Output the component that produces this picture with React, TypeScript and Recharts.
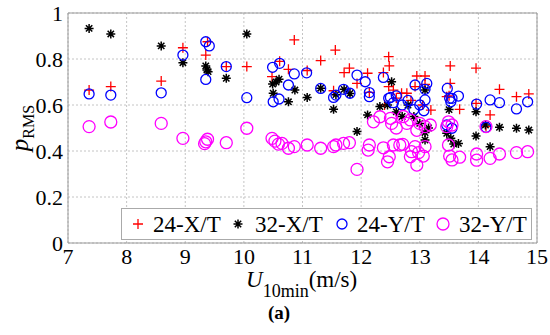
import { ScatterChart, Scatter, XAxis, YAxis, CartesianGrid, ReferenceArea, Legend, Label } from 'recharts';

// p_RMS against 10-min mean wind speed, four tower/direction cases.
// Values, [U10min, pRMS].

const xTicks = [7, 8, 9, 10, 11, 12, 13, 14, 15];
const yTicks = [0, 0.2, 0.4, 0.6, 0.8, 1];

const x24: [number, number][] = [
  [7.36, 0.665], [7.73, 0.68], [8.59, 0.704], [8.96, 0.849], [9.35, 0.817], [9.38, 0.875],
  [9.7, 0.767], [10.05, 0.767], [10.48, 0.723], [10.61, 0.79], [10.76, 0.755], [10.86, 0.883],
  [11.08, 0.75], [11.31, 0.793], [11.53, 0.662], [11.56, 0.839], [11.71, 0.741], [11.8, 0.76],
  [11.93, 0.694], [12.11, 0.738], [12.14, 0.655], [12.38, 0.741], [12.47, 0.81], [12.48, 0.77],
  [12.47, 0.68], [12.55, 0.665], [12.69, 0.651], [12.78, 0.651], [12.92, 0.68], [12.95, 0.726],
  [13.09, 0.726], [13.09, 0.69], [13.19, 0.578], [13.46, 0.636], [13.52, 0.77], [13.52, 0.694],
  [13.68, 0.581], [13.96, 0.76], [13.96, 0.607], [14.13, 0.506], [14.2, 0.557], [14.36, 0.668],
  [14.65, 0.636], [14.86, 0.648], [12.6, 0.63], [12.85, 0.62], [13.05, 0.6], [13.5, 0.64], [12.4, 0.6],
];

const x32: [number, number][] = [
  [7.36, 0.933], [7.73, 0.909], [8.59, 0.857], [8.96, 0.784], [9.35, 0.77], [9.37, 0.752],
  [9.39, 0.745], [9.7, 0.716], [10.05, 0.909], [10.49, 0.691], [10.5, 0.651], [10.6, 0.712],
  [10.55, 0.7], [10.76, 0.614], [10.87, 0.665], [11.08, 0.633], [11.31, 0.673], [11.53, 0.581],
  [11.57, 0.645], [11.71, 0.668], [11.81, 0.65], [11.93, 0.485], [12.11, 0.557], [12.32, 0.593],
  [12.52, 0.701], [12.45, 0.6], [12.6, 0.57], [12.7, 0.55], [12.8, 0.6], [12.9, 0.55], [13.0, 0.52],
  [13.09, 0.665], [13.09, 0.48], [13.09, 0.448], [13.15, 0.5], [13.46, 0.477], [13.53, 0.455],
  [13.58, 0.43], [13.66, 0.433], [13.5, 0.58], [13.96, 0.571], [13.96, 0.465], [14.12, 0.513],
  [14.2, 0.419], [14.36, 0.503], [14.65, 0.499], [14.86, 0.491],
];

const y24: [number, number][] = [
  [7.36, 0.648], [7.73, 0.643], [8.59, 0.653], [8.96, 0.817], [9.35, 0.875], [9.41, 0.857],
  [9.35, 0.711], [9.7, 0.767], [10.05, 0.632], [10.49, 0.764], [10.61, 0.781], [10.5, 0.614],
  [10.6, 0.626], [10.76, 0.687], [10.86, 0.735], [11.07, 0.74], [11.31, 0.672], [11.53, 0.633],
  [11.57, 0.643], [11.7, 0.668], [11.81, 0.651], [11.93, 0.73], [12.07, 0.701], [12.14, 0.654],
  [12.14, 0.636], [12.38, 0.72], [12.47, 0.629], [12.5, 0.633], [12.55, 0.61], [12.6, 0.64],
  [12.7, 0.6], [12.8, 0.62], [12.92, 0.687], [12.9, 0.58], [13.0, 0.6], [13.09, 0.668],
  [13.12, 0.694], [13.09, 0.622], [13.07, 0.575], [13.47, 0.672], [13.51, 0.629], [13.53, 0.614],
  [13.55, 0.629], [13.66, 0.639], [13.46, 0.513], [13.55, 0.499], [13.97, 0.604], [14.13, 0.503],
  [14.2, 0.622], [14.36, 0.61], [14.65, 0.583], [14.84, 0.614],
];

const y32: [number, number][] = [
  [7.36, 0.506], [7.73, 0.526], [8.59, 0.52], [8.96, 0.455], [9.35, 0.44], [9.38, 0.451],
  [9.33, 0.432], [9.7, 0.436], [10.05, 0.499], [10.48, 0.455], [10.53, 0.443], [10.59, 0.43],
  [10.65, 0.433], [10.76, 0.412], [10.86, 0.419], [11.08, 0.426], [11.31, 0.412], [11.53, 0.419],
  [11.57, 0.426], [11.7, 0.433], [11.8, 0.436], [11.93, 0.32], [12.12, 0.404], [12.14, 0.426],
  [12.38, 0.414], [12.45, 0.353], [12.48, 0.375], [12.55, 0.426], [12.66, 0.426], [12.71, 0.429],
  [12.84, 0.375], [12.86, 0.397], [12.92, 0.419], [12.95, 0.339], [12.98, 0.393], [13.09, 0.419],
  [13.06, 0.378], [13.49, 0.426], [13.51, 0.378], [13.55, 0.361], [13.68, 0.373], [13.97, 0.387],
  [13.97, 0.36], [14.2, 0.368], [14.36, 0.387], [14.65, 0.393], [14.84, 0.397], [14.13, 0.506],
  [12.21, 0.527], [12.32, 0.549], [12.5, 0.542], [12.52, 0.52], [12.72, 0.55], [12.78, 0.52],
  [12.84, 0.535], [13.0, 0.52], [13.09, 0.506], [13.18, 0.513], [13.49, 0.527], [13.55, 0.513],
  [13.46, 0.506], [12.6, 0.5], [12.95, 0.49],
];

const FONT = '"Liberation Serif", "Times New Roman", serif';
const toPts = (a: [number, number][]) => a.map(([x, y]) => ({ x, y }));

function plus(cx: number, cy: number) {
  return <path d={`M${cx - 5},${cy}H${cx + 5}M${cx},${cy - 5}V${cy + 5}`} stroke="#ff0000" strokeWidth={1.3} fill="none" />;
}
function star(cx: number, cy: number) {
  const r = 4.5, d = r * 0.707;
  return (
    <path d={`M${cx - r},${cy}H${cx + r}M${cx},${cy - r}V${cy + r}M${cx - d},${cy - d}L${cx + d},${cy + d}M${cx - d},${cy + d}L${cx + d},${cy - d}`}
      stroke="#000" strokeWidth={1.5} fill="none" />
  );
}
function ring(cx: number, cy: number, r: number, color: string) {
  return <circle cx={cx} cy={cy} r={r} stroke={color} strokeWidth={1.3} fill="none" />;
}

const PlusShape = (p: any) => plus(p.cx, p.cy);
const StarShape = (p: any) => star(p.cx, p.cy);
const BlueShape = (p: any) => ring(p.cx, p.cy, 5, '#0000ff');
const PinkShape = (p: any) => ring(p.cx, p.cy, 6, '#ff00ff');

function LegendBox() {
  const t = { fontFamily: FONT, fontSize: 23, fill: '#000' };
  return (
    <svg width={411} height={32} style={{ display: 'block' }}>
      <rect x={0.5} y={0.5} width={410} height={31} fill="#fff" stroke="#aaa" />
      {plus(17, 16)}
      <text x={32} y={24} {...t}>24-X/T</text>
      {star(117, 16)}
      <text x={134} y={24} {...t}>32-X/T</text>
      {ring(221, 16, 5, '#0000ff')}
      <text x={236} y={24} {...t}>24-Y/T</text>
      {ring(322, 16, 6, '#ff00ff')}
      <text x={338} y={24} {...t}>32-Y/T</text>
    </svg>
  );
}

export default function App() {
  return (
    <div style={{ position: 'absolute', left: 0, top: 0, width: 550, height: 335, background: '#fff' }}>
      <ScatterChart width={550} height={335} margin={{ top: 13, right: 13, bottom: 52, left: 0 }}>
        <CartesianGrid stroke="#c4c4c4" strokeDasharray="2 2" />
        <XAxis type="number" dataKey="x" domain={[7, 15]} ticks={xTicks} height={40}
          axisLine={false} tickLine={false} tickSize={0} tickMargin={5}
          tick={{ fill: '#000', fontSize: 22, fontFamily: FONT }}>
          <Label content={() => (
            <text x={246} y={287} fontFamily={FONT} fontSize={23} fill="#000">
              <tspan fontStyle="italic">U</tspan>
              <tspan fontSize={18} dy={10}>10min</tspan>
              <tspan dy={-10}>(m/s)</tspan>
            </text>
          )} />
        </XAxis>
        <YAxis type="number" dataKey="y" domain={[0, 1]} ticks={yTicks} width={68}
          axisLine={false} tickLine={false} tickSize={0} tickMargin={5}
          tickFormatter={(v: number) => (v === 0 || v === 1 ? String(v) : v.toFixed(1))}
          tick={{ fill: '#000', fontSize: 22, fontFamily: FONT }}>
          <Label content={() => (
            <text x={0} y={0} transform="translate(28,128) rotate(-90)" textAnchor="middle" fontFamily={FONT} fontSize={25} fill="#000">
              <tspan fontStyle="italic">p</tspan>
              <tspan fontSize={16} dy={6}>RMS</tspan>
            </text>
          )} />
        </YAxis>
        <ReferenceArea x1={7} x2={15} y1={0} y2={1} fill="none" stroke="#9a9a9a" strokeWidth={1} />
        <Scatter name="24-X/T" data={toPts(x24)} shape={PlusShape} isAnimationActive={false} />
        <Scatter name="32-X/T" data={toPts(x32)} shape={StarShape} isAnimationActive={false} />
        <Scatter name="24-Y/T" data={toPts(y24)} shape={BlueShape} isAnimationActive={false} />
        <Scatter name="32-Y/T" data={toPts(y32)} shape={PinkShape} isAnimationActive={false} />
        <Legend layout="horizontal" verticalAlign="middle" align="center" content={() => <LegendBox />}
          wrapperStyle={{ left: 121, top: 208, width: 411, height: 32 }} />
      </ScatterChart>
      <div style={{ position: 'absolute', left: 0, top: 302, width: 550, textAlign: 'center', fontFamily: FONT, fontSize: 19, fontWeight: 700, paddingLeft: 4 }}>
        (a)
      </div>
    </div>
  );
}
